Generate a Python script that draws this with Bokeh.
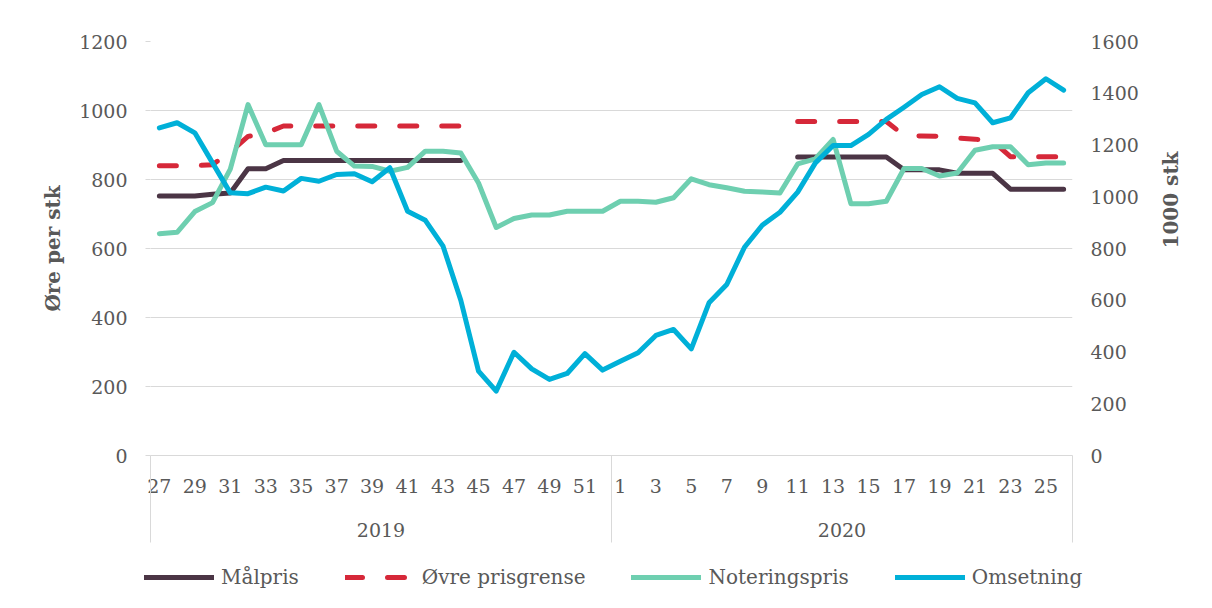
import math
import numpy as np
from bokeh.plotting import figure
from bokeh.layouts import column
from bokeh.models import Range1d, LinearAxis, FixedTicker, Legend, LegendItem
from bokeh.embed import file_html
from bokeh.resources import INLINE

# ---------------- data ----------------
weeks_2019 = list(range(27, 53))
weeks_2020 = list(range(1, 27))
years = ["2019", "2020"]

malpris = ([752, 752, 752, 757, 761, 831, 831] + [855] * 11 + [None] * 8
           + [None] * 10 + [865] * 6 + [828, 828, 828, 818, 818, 818, 772, 772, 772, 772])
ovre_prisgrense = ([840, 840, 840, 843, 880, 925, 935] + [955] * 11 + [None] * 8
                   + [None] * 10 + [968] * 6 + [928, 926, 925, 920, 917, 912, 866, 866, 866, 866])
noteringspris = [643, 647, 707, 733, 830, 1017, 901, 901, 901, 1017, 882, 839, 838, 824,
                 835, 882, 882, 877, 790, 661, 687, 697, 697, 708, 708, 708,
                 737, 737, 734, 747, 802, 785, 776, 766, 764, 761, 845, 860, 916,
                 730, 730, 737, 832, 832, 810, 819, 885, 895, 895, 843, 848, 848]
omsetning = [1266, 1286, 1247, 1131, 1015, 1012, 1037, 1022, 1071, 1060, 1086, 1089, 1058,
             1112, 944, 909, 809, 600, 326, 249, 399, 335, 294, 317, 394, 330,
             364, 397, 464, 487, 412, 590, 661, 805, 890, 940, 1018, 1131, 1198, 1198,
             1241, 1299, 1346, 1395, 1425, 1380, 1363, 1286, 1305, 1402, 1456, 1412]

series_names = ["Målpris", "Øvre prisgrense", "Noteringspris", "Omsetning"]

left_ticks = [0, 200, 400, 600, 800, 1000, 1200]
right_ticks = [0, 200, 400, 600, 800, 1000, 1200, 1400, 1600]

week_labels = [str(w) for w in weeks_2019 + weeks_2020]
n = len(week_labels)
x = np.arange(n)

FONT = "DejaVu Serif"
TXT = "#595959"
GRID = "#D9D9D9"
TICK_FS = "19px"
COLORS = ["#4B3545", "#D62839", "#6ECFB0", "#00B0D8"]
DASHES = ["solid", "17 25", "solid", "solid"]
LW = 5

p = figure(frame_width=922, frame_height=414,
           min_border_left=150, min_border_right=128, min_border_top=41, min_border_bottom=90,
           x_range=Range1d(-0.5, n - 0.5), y_range=Range1d(0, 1200),
           output_backend="svg", toolbar_location=None, tools="")
p.frame_align = False
p.extra_y_ranges = {"vol": Range1d(0, 1600)}
p.outline_line_color = None
p.background_fill_color = "white"
p.border_fill_color = "white"

# left axis
ya = p.yaxis[0]
ya.ticker = FixedTicker(ticks=left_ticks)
ya.axis_line_color = None
ya.major_tick_out = 5
ya.major_tick_in = 0
ya.major_tick_line_color = GRID
ya.minor_tick_line_color = None
ya.major_label_standoff = 18
ya.major_label_text_font = FONT
ya.major_label_text_font_size = TICK_FS
ya.major_label_text_color = TXT
ya.axis_label = "Øre per stk"
ya.axis_label_text_font = FONT
ya.axis_label_text_font_size = "20px"
ya.axis_label_text_font_style = "bold"
ya.axis_label_text_color = TXT
ya.axis_label_standoff = 11

p.ygrid.ticker = FixedTicker(ticks=left_ticks)
p.ygrid.grid_line_color = GRID
p.xgrid.grid_line_color = None

# right axis
ra = LinearAxis(y_range_name="vol", ticker=FixedTicker(ticks=right_ticks))
ra.axis_line_color = None
ra.major_tick_line_color = None
ra.minor_tick_line_color = None
ra.major_tick_out = 0
ra.major_label_standoff = 18
ra.major_label_text_font = FONT
ra.major_label_text_font_size = TICK_FS
ra.major_label_text_color = TXT
ra.axis_label = "1000 stk"
ra.axis_label_text_font = FONT
ra.axis_label_text_font_size = "20px"
ra.axis_label_text_font_style = "bold"
ra.axis_label_text_color = TXT
ra.axis_label_standoff = 29
ra.axis_label_orientation = math.pi / 2
p.add_layout(ra, "right")

seps = [-0.49, (n / 2) - 0.5, n - 0.51]

# bottom axis: weeks
xa = p.xaxis[0]
tick_pos = [i for i in range(n) if i % 2 == 0]
xa.ticker = FixedTicker(ticks=tick_pos)
xa.major_label_overrides = {i: week_labels[i] for i in tick_pos}
xa.axis_line_color = GRID
xa.major_tick_line_color = None
xa.minor_tick_line_color = None
xa.major_tick_out = 0
xa.major_tick_in = 0
xa.minor_tick_out = 0
xa.minor_tick_in = 0
xa.major_label_standoff = 23
xa.major_label_text_font = FONT
xa.major_label_text_font_size = TICK_FS
xa.major_label_text_color = TXT

# bottom axis: years (its minor ticks draw the group separators)
year_pos = [(n / 2 - 1) / 2, n / 2 + (n / 2 - 1) / 2]
yr = LinearAxis(ticker=FixedTicker(ticks=year_pos, minor_ticks=seps))
yr.major_label_overrides = {year_pos[0]: years[0], year_pos[1]: years[1]}
yr.axis_line_color = None
yr.major_tick_line_color = None
yr.major_tick_out = 0
yr.major_tick_in = 0
yr.minor_tick_line_color = GRID
yr.minor_tick_out = 47
yr.minor_tick_in = 40
yr.major_label_standoff = -20
yr.major_label_text_font = FONT
yr.major_label_text_font_size = TICK_FS
yr.major_label_text_color = TXT
p.add_layout(yr, "below")

# series (Omsetning on the secondary axis)
series = [malpris, ovre_prisgrense, noteringspris, omsetning]
for k, vals in enumerate(series):
    kw = dict(y_range_name="vol") if k == 3 else {}
    p.line(x, np.array(vals, dtype=float), line_color=COLORS[k], line_width=LW,
           line_dash=DASHES[k], line_cap="round", line_join="round", **kw)

# legend strip below the chart
lg = figure(width=1200, height=56, min_border=0, x_range=Range1d(0, 1), y_range=Range1d(0, 1),
            x_axis_location=None, y_axis_location=None,
            output_backend="svg", toolbar_location=None, tools="")
lg.frame_align = False
lg.outline_line_color = None
lg.xgrid.grid_line_color = None
lg.ygrid.grid_line_color = None
items = []
for k, name in enumerate(series_names):
    r = lg.line(x=np.array([np.nan]), y=np.array([np.nan]), line_color=COLORS[k],
                line_width=LW, line_dash=DASHES[k], line_cap="round")
    items.append(LegendItem(label=name, renderers=[r]))
legend = Legend(items=items, orientation="horizontal", location=(144, 12))
legend.label_text_font = FONT
legend.label_text_font_size = "20px"
legend.label_text_color = TXT
legend.glyph_width = 70
legend.glyph_height = 20
legend.label_standoff = 7
legend.spacing = 46
legend.padding = 0
legend.margin = 0
legend.border_line_color = None
legend.background_fill_alpha = 0
lg.add_layout(legend, "center")

open("out.html", "w").write(file_html(column(p, lg, spacing=0), INLINE))
